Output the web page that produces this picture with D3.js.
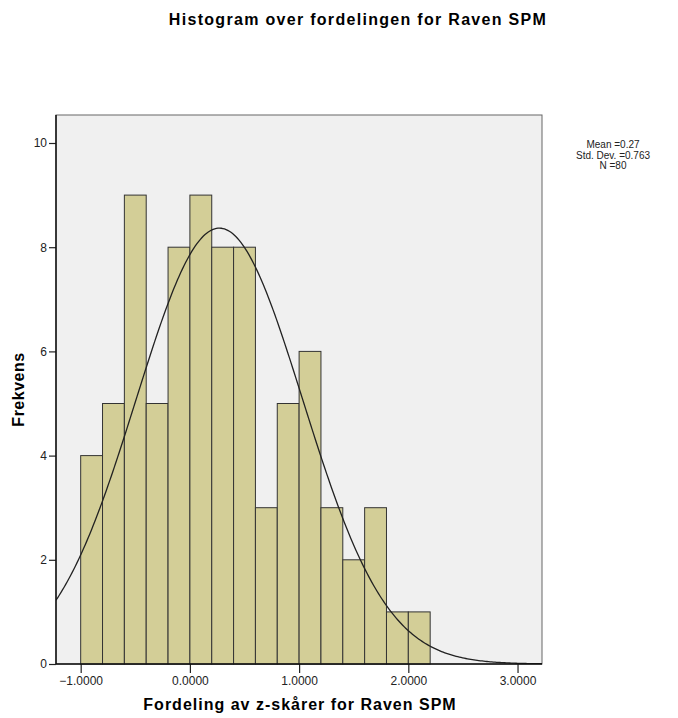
<!DOCTYPE html>
<html>
<head>
<meta charset="utf-8">
<script src="https://cdn.jsdelivr.net/npm/d3@7"></script>
<style>
  body { margin: 0; background: #fff; }
  text { font-family: "Liberation Sans", Arial, sans-serif; }
</style>
</head>
<body>
<div class="chart"></div>
<script>
// histogram bins (z-scores), width 0.2
const binStarts = [-1.0,-0.8,-0.6,-0.4,-0.2,0.0,0.2,0.4,0.6,0.8,1.0,1.2,1.4,1.6,1.8,2.0];
const counts = [4,5,9,5,8,9,8,8,3,5,6,3,2,3,1,1];
const binWidth = 0.2;
const xTicks = [-1,0,1,2,3];
const yTicks = [0,2,4,6,8,10];
const stats = ['Mean =0.27','Std. Dev. =0.763','N =80'];
const mean = 0.27, sd = 0.763, n = 80;

const width = 678, height = 718;
const plot = {left: 56, right: 542, top: 115, bottom: 664};

const svg = d3.select('.chart').append('svg')
    .attr('width', width).attr('height', height);

const x = d3.scaleLinear()
    .domain([-1.226, 3.224])
    .range([plot.left, plot.right]);
const y = d3.scaleLinear()
    .domain([0, 10])
    .range([plot.bottom, 143]);

// plot background
svg.append('rect')
    .attr('x', plot.left).attr('y', plot.top)
    .attr('width', plot.right - plot.left).attr('height', plot.bottom - plot.top)
    .attr('fill', '#f0f0f0')
    .attr('stroke', '#666')
    .attr('stroke-width', 1);

svg.append('defs').append('clipPath').attr('id', 'clip')
    .append('rect')
    .attr('x', plot.left).attr('y', plot.top)
    .attr('width', plot.right - plot.left).attr('height', plot.bottom - plot.top);

// bars
svg.append('g').selectAll('rect.bar')
    .data(binStarts)
    .enter()
    .append('rect')
    .attr('class', 'bar')
    .attr('x', d => x(d))
    .attr('y', (d, i) => y(counts[i]))
    .attr('width', d => x(d + binWidth) - x(d))
    .attr('height', (d, i) => y(0) - y(counts[i]))
    .attr('fill', '#d3ce97')
    .attr('stroke', '#333')
    .attr('stroke-width', 1);

// normal curve
const curvePts = d3.range(0, 301).map(i => {
    const v = x.domain()[0] + (x.domain()[1] - x.domain()[0]) * i / 300;
    const f = n * binWidth / (sd * Math.sqrt(2 * Math.PI)) * Math.exp(-0.5 * Math.pow((v - mean) / sd, 2));
    return [v, f];
});
svg.append('path')
    .datum(curvePts)
    .attr('clip-path', 'url(#clip)')
    .attr('fill', 'none')
    .attr('stroke', '#222')
    .attr('stroke-width', 1.3)
    .attr('d', d3.line().x(d => x(d[0])).y(d => y(d[1])));

// axes
const yAxis = svg.append('g')
    .attr('transform', 'translate(' + plot.left + ',0)')
    .call(d3.axisLeft(y).tickValues(yTicks).tickSize(7).tickPadding(2).tickSizeOuter(0));
const xAxis = svg.append('g')
    .attr('transform', 'translate(0,' + plot.bottom + ')')
    .call(d3.axisBottom(x).tickValues(xTicks).tickFormat(d3.format('.4f')).tickSize(9).tickPadding(3).tickSizeOuter(0));
[yAxis, xAxis].forEach(a => {
    a.select('.domain').remove();
    a.selectAll('line').attr('stroke', '#222').attr('stroke-width', 1.2);
    a.selectAll('text').attr('fill', '#222').style('font-size', '12px')
        .style('font-family', '"Liberation Sans", Arial, sans-serif');
});
svg.append('line')
    .attr('x1', plot.left).attr('x2', plot.left)
    .attr('y1', plot.top).attr('y2', plot.bottom)
    .attr('stroke', '#111').attr('stroke-width', 1.5);
svg.append('line')
    .attr('x1', plot.left).attr('x2', plot.right)
    .attr('y1', plot.bottom).attr('y2', plot.bottom)
    .attr('stroke', '#111').attr('stroke-width', 1.5);

// titles
svg.append('text')
    .attr('x', 358).attr('y', 25)
    .attr('text-anchor', 'middle')
    .style('font-size', '16px').style('font-weight', 'bold')
    .style('letter-spacing', '1.3px')
    .text('Histogram over fordelingen for Raven SPM');
svg.append('text')
    .attr('x', 300).attr('y', 710)
    .attr('text-anchor', 'middle')
    .style('font-size', '16px').style('font-weight', 'bold')
    .style('letter-spacing', '1px')
    .text('Fordeling av z-skårer for Raven SPM');
svg.append('text')
    .attr('transform', 'translate(24,' + ((plot.top + plot.bottom) / 2) + ') rotate(-90)')
    .attr('text-anchor', 'middle')
    .style('font-size', '16px').style('font-weight', 'bold')
    .style('letter-spacing', '0.5px')
    .text('Frekvens');

// stats box text
svg.append('g').selectAll('text')
    .data(stats)
    .enter()
    .append('text')
    .attr('x', 613)
    .attr('y', (d, i) => 148 + i * 10.5)
    .attr('text-anchor', 'middle')
    .style('font-size', '10px')
    .attr('fill', '#222')
    .text(d => d);
</script>
</body>
</html>
